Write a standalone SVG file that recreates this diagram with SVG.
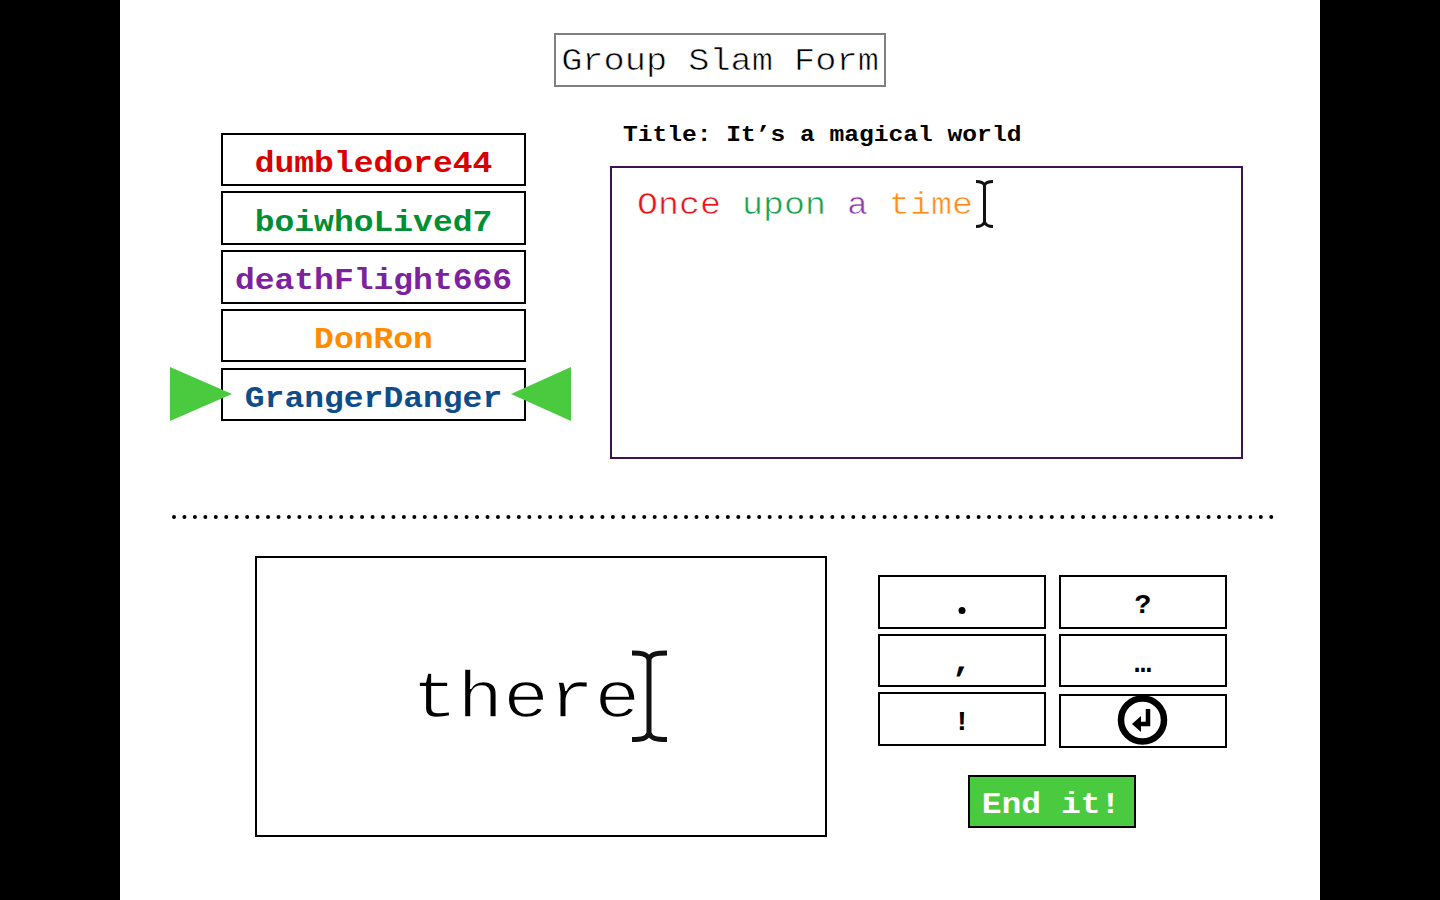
<svg xmlns="http://www.w3.org/2000/svg" width="1440" height="900" viewBox="0 0 1440 900">
<style>
.m{font-family:"Liberation Mono","Courier New",monospace}
.b{font-weight:700}
.box{fill:#fff;stroke:#000;stroke-width:2}
.n{font-size:33px;font-weight:700;text-anchor:middle}
.k{font-size:28px;font-weight:700;text-anchor:middle;fill:#000}
.thin{paint-order:normal;stroke:#fff}
.beam{fill:none;stroke:#111}
</style>
<rect width="1440" height="900" fill="#fff"/>
<rect x="0" y="0" width="120" height="900" fill="#000"/>
<rect x="1320" y="0" width="120" height="900" fill="#000"/>
<g id="title"><rect x="555" y="34" width="330" height="52" fill="#fff" stroke="#808080" stroke-width="2"/><text class="m thin" transform="translate(720 70) scale(1 .88)" font-size="35.3" stroke-width=".7" text-anchor="middle">Group Slam Form</text></g>
<g id="user1"><rect class="box" x="222" y="134" width="303" height="51"/><text class="m n" transform="translate(373.500 172) scale(1 .88)" fill="#d90000">dumbledore44</text></g>
<g id="user2"><rect class="box" x="222" y="192" width="303" height="52"/><text class="m n" transform="translate(373.500 231) scale(1 .88)" fill="#008f33">boiwhoLived7</text></g>
<g id="user3"><rect class="box" x="222" y="251" width="303" height="52"/><text class="m n" transform="translate(373.500 289) scale(1 .88)" fill="#7d229f">deathFlight666</text></g>
<g id="user4"><rect class="box" x="222" y="310" width="303" height="51"/><text class="m n" transform="translate(373.500 348) scale(1 .88)" fill="#ff8c00">DonRon</text></g>
<g id="user5"><rect class="box" x="222" y="369" width="303" height="51"/><text class="m n" transform="translate(373.500 407) scale(1 .88)" fill="#0f4c8a">GrangerDanger</text></g>
<polygon id="pointer-left" points="170,367 232,394 170,421" fill="#4aca3e"/>
<polygon id="pointer-right" points="571,367 511,394 571,421" fill="#4aca3e"/>
<text id="story-title" class="m b" transform="translate(623 141) scale(1 .9)" font-size="24.600">Title: It’s a magical world</text>
<g id="story"><rect x="611" y="167" width="631" height="291" fill="#fff" stroke="#3d1152" stroke-width="2"/>
<text class="m thin" transform="translate(637 213.500) scale(1 .88)" font-size="35" stroke-width=".6"><tspan fill="#e8141c">Once</tspan> <tspan fill="#1ba04a">upon</tspan> <tspan fill="#8e3ab0">a</tspan> <tspan fill="#ff8c1a">time</tspan></text>
<path class="beam" d="M976 181.500C980 181.500 983 182 984.500 185C986 182 989 181.500 993 181.500M984.500 185V222M976 226.500C980 226.500 983 226 984.500 222C986 226 989 226.500 993 226.500" stroke-width="3"/></g>
<line id="divider" x1="174" y1="517" x2="1272" y2="517" stroke="#000" stroke-width="4" stroke-linecap="round" stroke-dasharray="0 10.450"/>
<g id="word"><rect class="box" x="256" y="557" width="570" height="279"/><text class="m thin" transform="translate(412 717) scale(1 .88)" font-size="76" stroke-width="1.600">there</text>
<path class="beam" d="M632 653C642 653 647 654 649 659C651 654 656 653 667 653M649 659V733M632 739.500C642 739.500 647 738.500 649 733C651 738.500 656 739.500 667 739.500" stroke-width="5"/></g>
<g id="key-period"><rect class="box" x="879" y="576" width="166" height="52"/><circle cx="962" cy="610.500" r="3.500" fill="#000"/></g>
<g id="key-question"><rect class="box" x="1060" y="576" width="166" height="52"/><text class="m k" x="1143" y="613">?</text></g>
<g id="key-comma"><rect class="box" x="879" y="635" width="166" height="51"/><text class="m k" x="962" y="671" stroke="#000" stroke-width=".8">,</text></g>
<g id="key-ellipsis"><rect class="box" x="1060" y="635" width="166" height="51"/><text class="m k" x="1143" y="672">…</text></g>
<g id="key-exclaim"><rect class="box" x="879" y="693" width="166" height="52"/><text class="m k" x="962" y="730">!</text></g>
<g id="key-enter"><rect class="box" x="1060" y="695" width="166" height="52"/><circle cx="1142.500" cy="720" r="21.500" fill="#fff" stroke="#000" stroke-width="6.500"/><path d="M1148 709V724H1138" fill="none" stroke="#000" stroke-width="4.500"/><path d="M1132 724L1141 716V732Z" fill="#000"/></g>
<g id="end"><rect x="969" y="776" width="166" height="51" fill="#4aca3e" stroke="#000" stroke-width="2"/><text class="m b" transform="translate(1051 813) scale(1 .88)" font-size="33" text-anchor="middle" fill="#fff">End it!</text></g>
</svg>
